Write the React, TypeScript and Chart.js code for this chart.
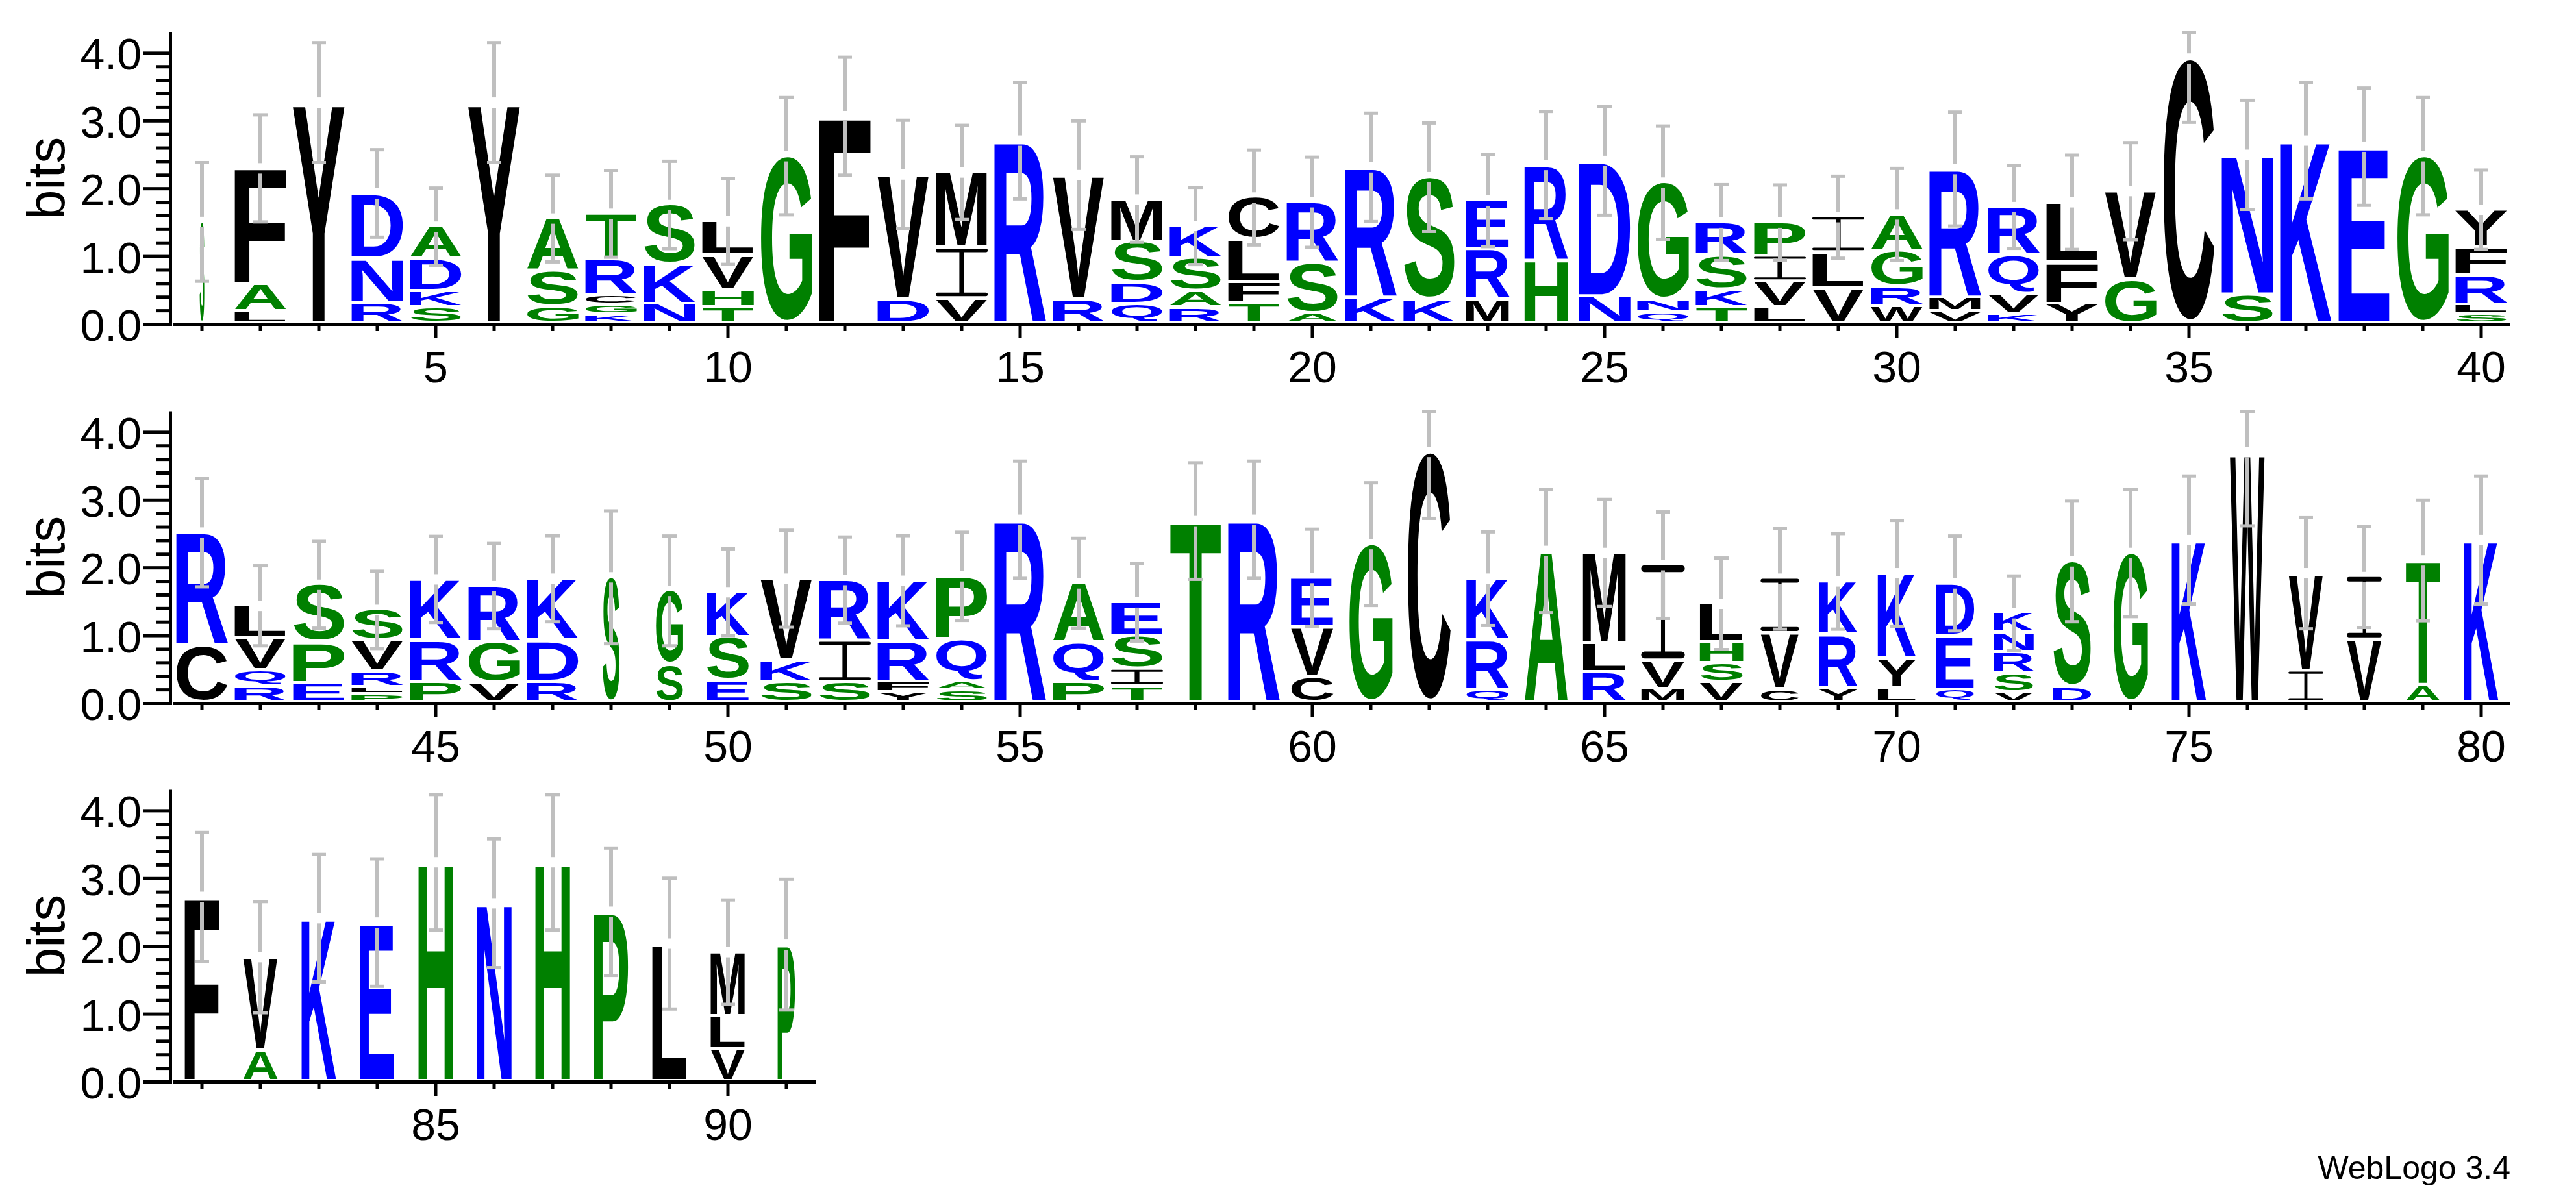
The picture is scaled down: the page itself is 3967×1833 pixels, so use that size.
import React, { useEffect, useRef } from "react";
import { Chart, registerables } from "chart.js";

Chart.register(...registerables);

// ---- values: letters bottom-to-top, their heights in bits ----
const row1Letters = ["S","LAF","Y","RND","SKDA","Y","GSA","KGCRT","NKS","THVL","G","F","DV","VIM","R","RV","QDSM","RASK","TFLC","ASR","KR","KS","MRE","HR","ND","QNG","TKSR","LVIP","VLI","WRGA","VMR","KVQR","YFL","GV","C","SN","K","E","G","SLRFY"];
const row1Heights = [[1.51],[.18,.40,1.72],[3.27],[.31,.65,.97],[.235,.245,.48,.48],[3.27],[.25,.53,.78],[.13,.14,.14,.55,.67],[.29,.58,.89],[.24,.26,.51,.51],[2.48],[3.07],[.36,1.85],[.37,.745,1.125],[2.71],[.36,1.84],[.29,.32,.60,.63],[.235,.245,.49,.48],[.30,.315,.625,.63],[.15,.74,.91],[.38,1.935],[.35,1.82],[.36,.74,.725],[.93,1.42],[.40,2.01],[.16,.19,1.74],[.24,.26,.50,.50],[.24,.38,.375,.505],[.52,.53,.53],[.26,.28,.53,.55],[.18,.20,1.91],[.14,.29,.58,.72],[.29,.61,.90],[.65,1.315],[3.92],[.425,2.075],[2.71],[2.62],[2.48],[.14,.14,.43,.42,.56]];
const row1Errors = [.875,.79,.885,.645,.57,.885,.64,.64,.645,.635,.865,.87,.80,.695,.86,.80,.63,.57,.70,.665,.80,.80,.68,.79,.80,.835,.56,.555,.605,.68,.84,.61,.695,.715,.94,.805,.86,.865,.865,.585];
const row1Weights = [.09,1,1,1,1,1,1,1,1,1,1,1,1,1,1,1,1,1,1,1,1,1,.84,.84,1,1,1,1,1,1,1,1,1,1,1,1,1,1,1,1];

const row2Letters = ["CR","RQVL","EPS","PLRVS","PRK","VGR","RDK","S","SG","ESK","SKV","SIR","YFRK","SAQP","R","PQA","TISE","T","R","CVE","G","C","QRK","A","RLM","MVI","VSHL","CVI","YRK","LYK","QED","VSRNK","DS","G","K","W","IV","VI","AT","K"];
const row2Heights = [[.84,1.68],[.24,.24,.48,.48],[.29,.60,.86],[.12,.11,.235,.455,.46],[.31,.61,.91],[.29,.60,.84],[.31,.61,.92],[1.86],[.56,1.10],[.33,.64,.67],[.30,.32,1.22],[.30,.61,.91],[.15,.15,.61,.90],[.18,.13,.63,.935],[2.71],[.30,.59,.88],[.245,.25,.49,.505],[2.69],[2.71],[.37,.74,.74],[2.35],[3.71],[.18,.74,.92],[2.25],[.45,.43,1.34],[.20,.42,1.42],[.30,.28,.31,.58],[.20,.825,.815],[.205,.795,.80],[.21,.44,1.27],[.19,.795,.785],[.15,.29,.31,.28,.30],[.23,1.865],[2.22],[2.41],[3.71],[.47,1.45],[.93,.935],[.26,1.85],[2.41]];
const row2Errors = [.80,.59,.64,.57,.635,.63,.635,.98,.81,.64,.715,.635,.665,.65,.865,.665,.57,.86,.865,.72,.905,.98,.69,.91,.79,.785,.675,.745,.705,.78,.70,.55,.89,.94,.945,1.09,.82,.745,.89,.945];
const row2Weights = [1,1,1,1,1,1,1,.34,.53,.83,1,1,1,1,1,1,1,1,1,.83,.84,.84,.83,.84,.84,.84,.84,.74,.74,.74,.74,.77,.74,.67,.67,.67,.67,.67,.67,.67];

const row3Letters = ["F","AV","K","E","H","N","H","P","L","VLM","P"];
const row3Heights = [[2.73],[.46,1.38],[2.415],[2.35],[3.24],[2.635],[3.24],[2.51],[2.04],[.48,.475,.96],[2.025]];
const row3Errors = [.95,.82,.94,.94,1.0,.95,1.0,.94,.965,.77,.965];
const row3Weights = [.67,.67,.67,.67,.67,.67,.67,.67,.67,.67,.34];

const yMax = 4.31;
const blueLetters = "RKDENQ";
const greenLetters = "ASTGHP";
const letterColor = (c: string) =>
  blueLetters.includes(c) ? "#0000ff" : greenLetters.includes(c) ? "#008000" : "#000000";

const FONT = '"Liberation Sans", Arial, sans-serif';

function drawLetter(ctx: CanvasRenderingContext2D, ch: string, x0: number, yTop: number, w: number, h: number) {
  if (h <= 0 || w <= 0) return;
  ctx.save();
  ctx.fillStyle = letterColor(ch);
  if (ch === "I") {
    // the reference's I carries thin round-ended serifs and a hairline stem
    const serif = Math.max(h * 0.075, 3);
    const stem = Math.max(w * 0.09, 2);
    ctx.beginPath();
    ctx.roundRect(x0, yTop, w, serif, serif / 2);
    ctx.roundRect(x0, yTop + h - serif, w, serif, serif / 2);
    ctx.rect(x0 + w / 2 - stem / 2, yTop, stem, h);
    ctx.fill();
  } else {
    ctx.font = `bold 400px ${FONT}`;
    ctx.textBaseline = "alphabetic";
    ctx.textAlign = "left";
    const m = ctx.measureText(ch);
    const gw = m.actualBoundingBoxLeft + m.actualBoundingBoxRight;
    const gh = m.actualBoundingBoxAscent + m.actualBoundingBoxDescent;
    ctx.translate(x0, yTop + h);
    ctx.scale(w / gw, h / gh);
    ctx.fillText(ch, m.actualBoundingBoxLeft, -m.actualBoundingBoxDescent);
  }
  ctx.restore();
}

const logoPlugin = (letters: string[], errors: number[], weights: number[]) => ({
  id: "logo",
  afterDraw(chart: any) {
    const { ctx, chartArea } = chart;
    const xs = chart.scales.x;
    const ys = chart.scales.y;

    // letters, placed on the stacked bars the library laid out
    chart.data.datasets.forEach((_: any, di: number) => {
      const meta = chart.getDatasetMeta(di);
      meta.data.forEach((bar: any, i: number) => {
        const ch = letters[i][di];
        if (!ch) return;
        const p = bar.getProps(["x", "y", "base", "width"], true);
        const w = p.width * weights[i];
        drawLetter(ctx, ch, p.x - w / 2, p.y, w, Math.abs(p.base - p.y) - 4.6);
      });
    });

    // error bars, clipped at the top of the axis
    ctx.save();
    letters.forEach((_, i) => {
      const total = chart.data.datasets.reduce((s: number, d: any) => s + (d.data[i] || 0), 0);
      const x = xs.getPixelForValue(i);
      const top = ys.getPixelForValue(total);
      const up = ys.getPixelForValue(Math.min(total + errors[i], yMax));
      const dn = ys.getPixelForValue(total - errors[i]);
      const gap = 8;
      ctx.fillStyle = "#bfbfbf";
      ctx.fillRect(x - 3, up, 6, top - gap - up);
      ctx.fillRect(x - 3, top + gap, 6, dn - top - gap);
      ctx.fillRect(x - 11, up - 2.5, 22, 5);
      ctx.fillRect(x - 11, dn - 2.5, 22, 5);
    });
    ctx.restore();

    // axes: long ticks at whole bits and every fifth position
    ctx.save();
    ctx.fillStyle = "#000";
    const axisX = chartArea.left - 3.5;
    ctx.fillRect(axisX - 2.5, chartArea.top, 5, chartArea.bottom - chartArea.top + 2.5);
    ctx.font = `68px ${FONT}`;
    ctx.textAlign = "right";
    ctx.textBaseline = "alphabetic";
    ys.ticks.forEach((t: any, i: number) => {
      const y = ys.getPixelForTick(i);
      const major = Math.abs(t.value - Math.round(t.value)) < 1e-6;
      const len = major ? 42.5 : 21.5;
      ctx.fillRect(axisX - len, y - 2.5, len, 5);
      if (major) ctx.fillText(Number(t.value).toFixed(1), 218, y + 25.5);
    });
    ctx.fillRect(chartArea.left, chartArea.bottom - 2.5, chartArea.right - chartArea.left, 5);
    xs.ticks.forEach((t: any, i: number) => {
      const x = xs.getPixelForTick(i);
      const major = Number(chart.data.labels[i]) % 5 === 0;
      ctx.fillRect(x - 2.5, chartArea.bottom, 5, major ? 21.5 : 10.5);
    });
    ctx.restore();
  },
});

const noScalePadding = (s: any) => {
  s.paddingTop = 0;
  s.paddingBottom = 0;
  s.paddingLeft = 0;
  s.paddingRight = 0;
};

function LogoRow(props: {
  first: number;
  letters: string[];
  heights: number[][];
  errors: number[];
  weights: number[];
  top: number;
  rightPad: number;
}) {
  const ref = useRef<HTMLCanvasElement | null>(null);
  useEffect(() => {
    if (!ref.current) return;
    const { first, letters, heights, errors, weights, rightPad } = props;
    const labels = letters.map((_, i) => String(first + i));
    const ranks = [0, 1, 2, 3, 4];
    const chart = new Chart(ref.current, {
      type: "bar",
      data: {
        labels,
        datasets: ranks.map((r) => ({
          label: `rank ${r + 1}`,
          data: heights.map((h) => h[r] ?? 0),
          backgroundColor: "rgba(0,0,0,0)",
          borderWidth: 0,
          categoryPercentage: 0.89,
          barPercentage: 1,
        })),
      },
      options: {
        animation: false,
        responsive: false,
        devicePixelRatio: 1,
        layout: { padding: { top: 49.5, left: 0, right: rightPad, bottom: 0 } },
        plugins: { legend: { display: false }, tooltip: { enabled: false } },
        scales: {
          x: {
            stacked: true,
            grid: { display: false, drawTicks: false },
            border: { display: false },
            afterFit: (s: any) => { s.height = 100.5; noScalePadding(s); },
            ticks: {
              autoSkip: false,
              maxRotation: 0,
              minRotation: 0,
              padding: 30,
              color: "#000",
              font: { family: FONT, size: 68 },
              callback: (_: any, i: number) => (Number(labels[i]) % 5 === 0 ? labels[i] : ""),
            },
          },
          y: {
            stacked: true,
            min: 0,
            max: yMax,
            grid: { display: false, drawTicks: false },
            border: { display: false },
            afterFit: (s: any) => { s.width = 266; noScalePadding(s); },
            afterBuildTicks: (s: any) => {
              s.ticks = s.ticks.filter((t: any) => Math.abs(t.value * 5 - Math.round(t.value * 5)) < 1e-6);
            },
            title: {
              display: true,
              text: "bits",
              color: "#000",
              font: { family: FONT, size: 82 },
              padding: { top: 27, bottom: 0 },
            },
            ticks: {
              display: false,
              stepSize: 0.2,
              autoSkip: false,
            },
          },
        },
      },
      plugins: [logoPlugin(letters, errors, weights)],
    } as any);
    return () => chart.destroy();
  }, []);
  return (
    <canvas
      ref={ref}
      width={3967}
      height={600}
      style={{ position: "absolute", left: 0, top: props.top, width: 3967, height: 600, display: "block" }}
    />
  );
}

export default function App() {
  return (
    <div style={{ position: "absolute", left: 0, top: 0, width: 3967, height: 1833, overflow: "hidden", background: "#fff" }}>
      <LogoRow first={1} letters={row1Letters} heights={row1Heights} errors={row1Errors} weights={row1Weights} top={0} rightPad={101} />
      <LogoRow first={41} letters={row2Letters} heights={row2Heights} errors={row2Errors} weights={row2Weights} top={584} rightPad={101} />
      <LogoRow first={81} letters={row3Letters} heights={row3Heights} errors={row3Errors} weights={row3Weights} top={1167} rightPad={2711} />
      <div style={{ position: "absolute", right: 101, top: 1774, font: `50px/50px ${FONT}`, color: "#000", whiteSpace: "nowrap" }}>
        WebLogo 3.4
      </div>
    </div>
  );
}
